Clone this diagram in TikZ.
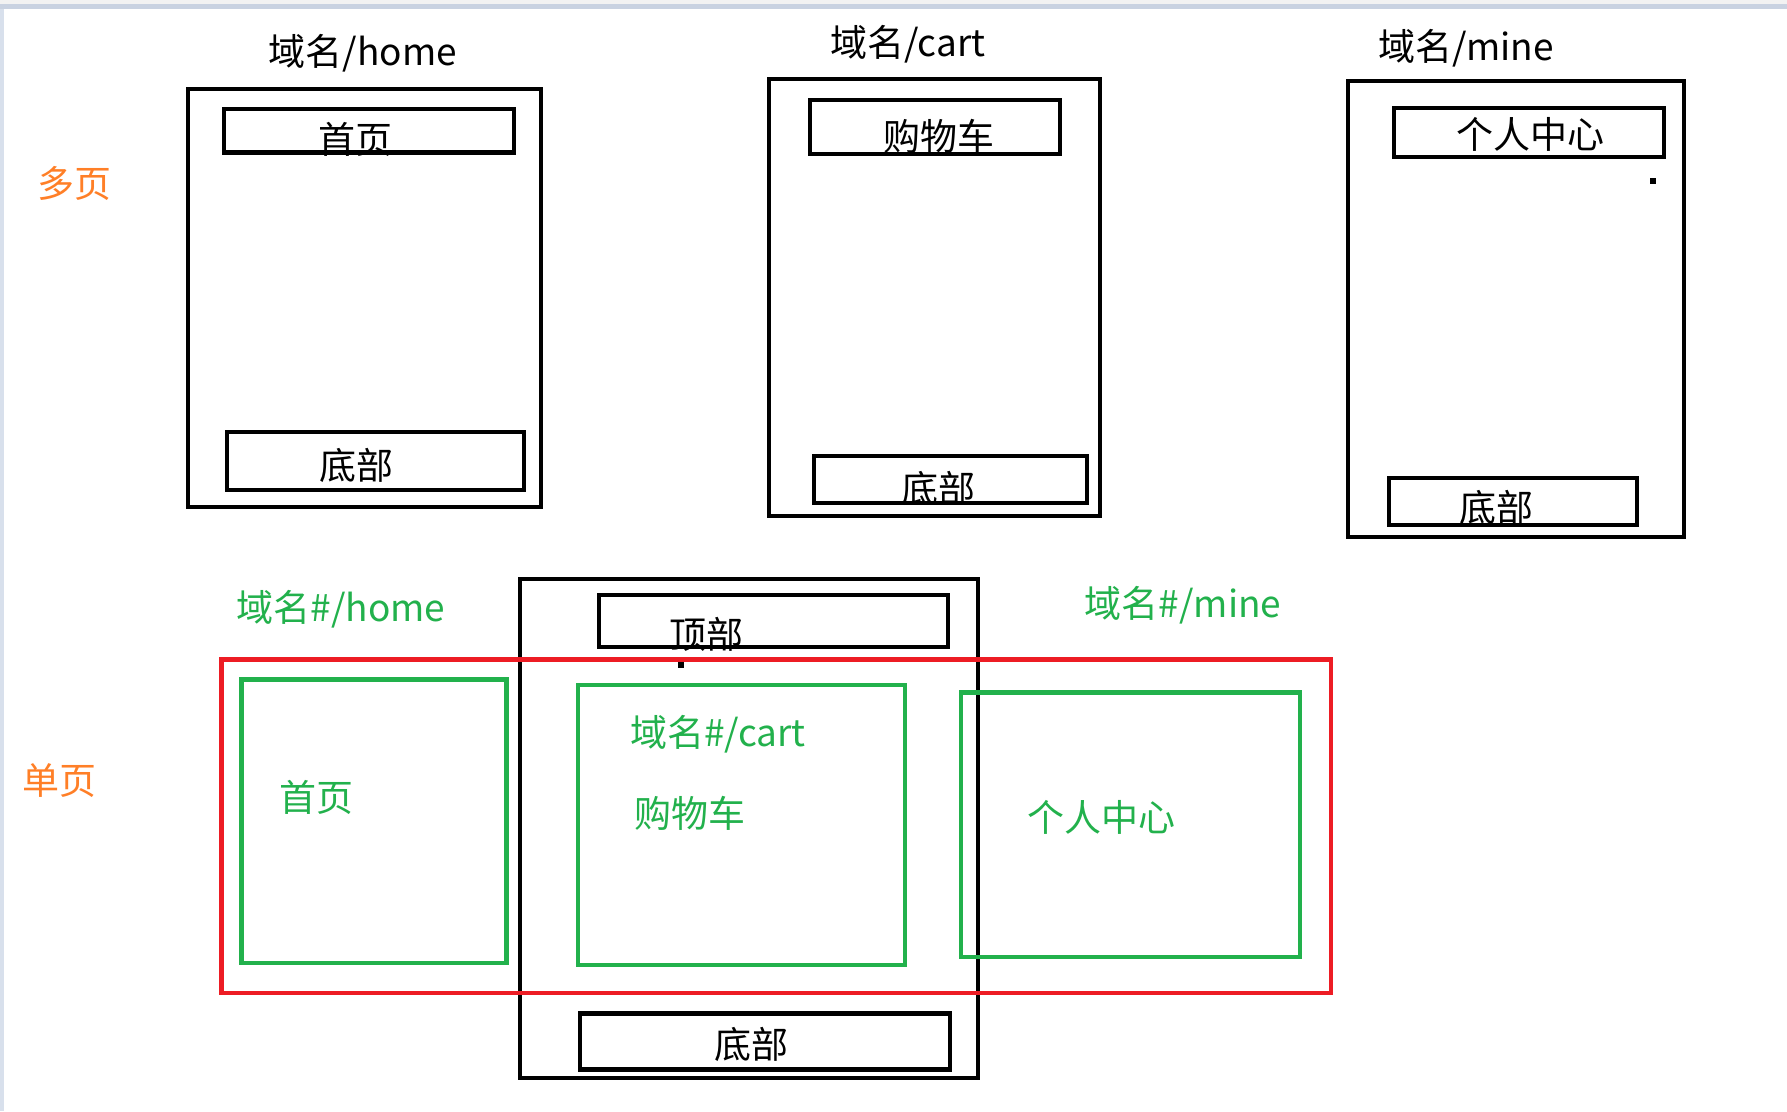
\documentclass[tikz,border=0pt]{standalone}
\usepackage{fontspec}
\setmainfont{Noto Sans CJK SC}
\definecolor{paintorange}{HTML}{FF7F27}
\definecolor{paintgreen}{HTML}{22B14C}
\definecolor{paintred}{HTML}{ED1C24}
\definecolor{chromeblue}{HTML}{C9D2E1}
\definecolor{chromeside}{HTML}{D8E0EC}
\definecolor{chromegray}{HTML}{F2F2F2}

% rectangle node given by the centre lines of its border: name, x1, y1, x2, y2, style
\newcommand\panebox[6]{%
  \node[#6, minimum width={#4-#2}, minimum height={#5-#3}] (#1) at ({(#2+#4)/2},{(#3+#5)/2}) {};}
% label whose glyphs are centred on (x,y): name, x, y, style, text
\newcommand\panelabel[5]{%
  \node[#4, anchor=base] (#1) at (#2,{#3+14}) {#5};}

\tikzset{
  frame/.style={draw=black, line width=4.8pt, inner sep=0pt, outer sep=0pt, rectangle},
  redframe/.style={frame, draw=paintred},
  greenframe/.style={frame, draw=paintgreen},
  lbl/.style={inner sep=0pt, outer sep=0pt, font=\fontsize{37}{44}\selectfont, text=black},
  orangelbl/.style={lbl, text=paintorange},
  greenlbl/.style={lbl, text=paintgreen},
  pixel/.style={fill=black, inner sep=0pt, outer sep=0pt, minimum size=6pt, rectangle}
}

\begin{document}
\begin{tikzpicture}[x=1pt, y=-1pt]
\useasboundingbox (0,0) rectangle (1787,1111);
\fill[white] (0,0) rectangle (1787,1111);
% window chrome along the top and left edges
\fill[chromegray] (0,0) rectangle (1787,4);
\fill[chromeblue] (0,4) rectangle (1787,9);
\fill[chromeside] (0,9) rectangle (4,1111);

% --- multi-page: three separate pages ---
\panebox{homepage}{188}{89}{541}{507}{frame}
\panebox{homehead}{224}{109}{514}{152.5}{frame}
\panebox{homefoot}{227}{432}{524}{490}{frame}

\panebox{cartpage}{769}{79}{1100}{516}{frame}
\panebox{carthead}{810}{100}{1060}{154}{frame}
\panebox{cartfoot}{814}{456}{1087}{503}{frame}

\panebox{minepage}{1348}{81}{1684}{537}{frame}
\panebox{minehead}{1394}{108}{1664}{157}{frame}
\panebox{minefoot}{1389}{478}{1637}{525}{frame}
\node[pixel] (minedot) at (1653,180.5) {};

% --- single page: one shell with swapped content ---
\panebox{shell}{520}{579}{978}{1078}{frame}
\panebox{shellhead}{599}{595}{948}{647}{frame}
\panebox{shellfoot}{580}{1013.5}{950}{1069.5}{frame}
\node[pixel] (shelldot) at (681,664.5) {};

\panebox{viewport}{221.5}{659.5}{1331}{993}{redframe}
\panebox{homeview}{241.5}{679.5}{506.5}{963}{greenframe}
\panebox{cartview}{578}{685}{905}{965}{greenframe}
\panebox{mineview}{961}{692.5}{1300}{957}{greenframe}

% --- labels ---
\panelabel{homeurl}{363}{51}{lbl}{域名/home}
\panelabel{carturl}{908}{42}{lbl}{域名/cart}
\panelabel{mineurl}{1466}{46}{lbl}{域名/mine}
\panelabel{multi}{74}{183}{orangelbl}{多页}

\panelabel{homehtxt}{355}{139}{lbl}{首页}
\panelabel{homeftxt}{356}{465}{lbl}{底部}
\panelabel{carthtxt}{939}{136}{lbl}{购物车}
\panelabel{cartftxt}{938}{488}{lbl}{底部}
\panelabel{minehtxt}{1530}{134}{lbl}{个人中心}
\panelabel{mineftxt}{1496}{507}{lbl}{底部}

\panelabel{single}{59}{780}{orangelbl}{单页}
\panelabel{homehash}{341}{607}{greenlbl}{域名\#/home}
\panelabel{minehash}{1183}{603}{greenlbl}{域名\#/mine}
\panelabel{shellhtxt}{706}{634}{lbl}{顶部}
\panelabel{shellftxt}{751}{1044}{lbl}{底部}
\panelabel{homevtxt}{316}{797}{greenlbl}{首页}
\panelabel{carthash}{718}{732}{greenlbl}{域名\#/cart}
\panelabel{cartvtxt}{690}{813}{greenlbl}{购物车}
\panelabel{minevtxt}{1101}{817}{greenlbl}{个人中心}
\end{tikzpicture}
\end{document}
